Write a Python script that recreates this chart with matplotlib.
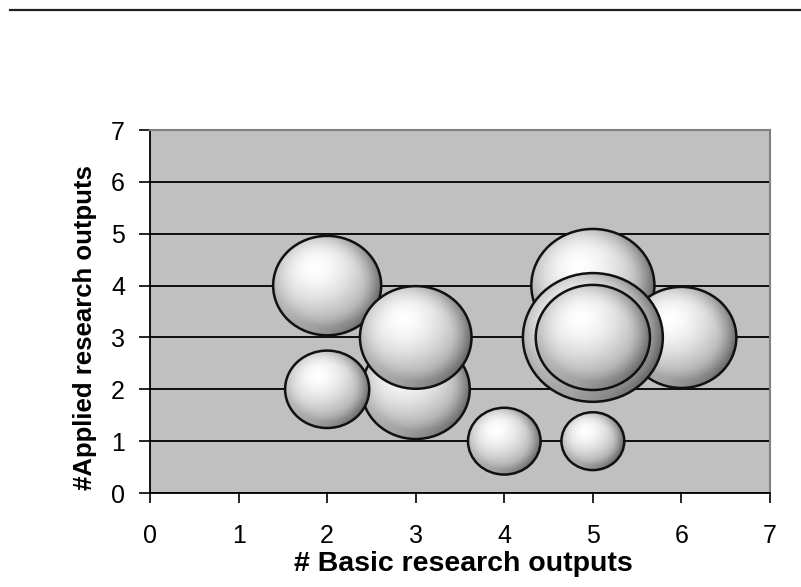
import numpy as np
import matplotlib.pyplot as plt
from matplotlib.patches import Ellipse
from matplotlib.lines import Line2D

plt.rcParams['font.family'] = ['Liberation Sans', 'DejaVu Sans']

# bubbles, in drawing order (later ones sit on top)
basic = [5, 6, 5, 5, 2, 3, 3, 2, 4, 5]
applied = [4, 3, 3, 3, 4, 2, 3, 2, 1, 1]
# bubble diameter in units of the x axis
diam = [1.39, 1.24, 1.58, 1.29, 1.22, 1.22, 1.26, 0.95, 0.82, 0.71]

ticks = list(range(0, 8))

fig = plt.figure(figsize=(8.01, 5.87), dpi=100)
fig.patch.set_facecolor('white')
ax = fig.add_axes([0.1873, 0.1601, 0.774, 0.6184])
ax.set_facecolor('#c0c0c0')
ax.set_xlim(0, 7)
ax.set_ylim(0, 7)

# pixels per data unit, used to keep bubbles round on screen
px_x = 0.774 * 801 / 7
px_y = 0.6184 * 587 / 7


def sphere_shade(n=240):
    u, v = np.meshgrid(np.linspace(-1, 1, n), np.linspace(-1, 1, n))
    r = np.sqrt(u ** 2 + v ** 2)
    d = np.sqrt((u + 0.22) ** 2 + (v - 0.35) ** 2)
    g = 1.0 - 0.55 * np.clip(d / 1.6, 0, 1) ** 1.6
    # darker band towards the rim, strongest on the right
    rim = np.clip((r - 0.6) / 0.4, 0, 1) ** 1.6
    g -= rim * (0.08 + 0.14 * np.clip(u + 0.3, 0, 1))
    # lighter reflection along the lower edge
    g += 0.14 * np.clip((r - 0.84) / 0.16, 0, 1) * np.clip(-v - 0.2, 0, 1)
    g = np.clip(g, 0, 1)
    return np.dstack([g, g, g])


shade = sphere_shade()
for i, (x, y, dd) in enumerate(zip(basic, applied, diam)):
    w = dd
    h = dd * px_x * 0.92 / px_y
    z = 3 + i * 2
    ell = Ellipse((x, y), w, h, facecolor='none', edgecolor='none', zorder=z)
    ax.add_patch(ell)
    im = ax.imshow(shade, extent=[x - w / 2, x + w / 2, y - h / 2, y + h / 2],
                   origin='lower', interpolation='bilinear', zorder=z, aspect='auto')
    im.set_clip_path(ell)
    ax.add_patch(Ellipse((x, y), w, h, facecolor='none', edgecolor='#111111',
                         lw=1.8, zorder=z + 1))

ax.set_xlim(0, 7)
ax.set_ylim(0, 7)

# horizontal gridlines
ax.set_axisbelow(True)
ax.yaxis.grid(True, color='black', lw=1.3)
ax.xaxis.grid(False)

ax.set_xticks(ticks)
ax.set_yticks(ticks)
ax.tick_params(axis='x', direction='out', length=7, width=1.2, pad=15.5, labelsize=18)
ax.tick_params(axis='y', direction='out', length=8, width=1.2, pad=10, labelsize=18)

for side in ['left', 'bottom']:
    ax.spines[side].set_color('black')
    ax.spines[side].set_linewidth(1.3)
for side in ['top', 'right']:
    ax.spines[side].set_color('#808080')
    ax.spines[side].set_linewidth(1.5)

ax.set_xlabel('# Basic research outputs', fontsize=20.5, fontweight='bold')
ax.set_ylabel('#Applied research outputs', fontsize=18.5, fontweight='bold')
ax.xaxis.set_label_coords(0.505, -0.16)
ax.yaxis.set_label_coords(-0.085, 0.457)

# rule across the top of the page
fig.add_artist(Line2D([0.012, 1.0], [1 - 10 / 587, 1 - 10 / 587], color='#222222', lw=1.6))

fig.savefig('out.png', dpi=100)
